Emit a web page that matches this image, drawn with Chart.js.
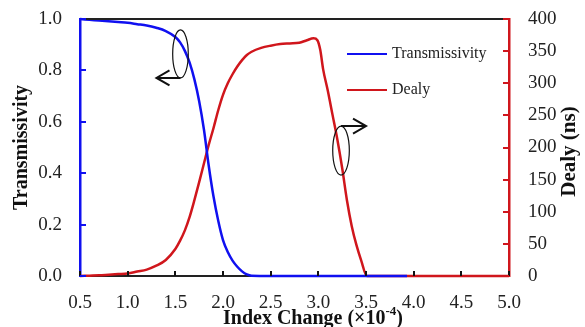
<!DOCTYPE html>
<html>
<head>
<meta charset="utf-8">
<script src="https://cdn.jsdelivr.net/npm/chart.js@4.4.1/dist/chart.umd.min.js"></script>
<style>
  html, body { margin: 0; padding: 0; background: #fff; }
  #wrap { width: 585px; height: 327px; }
</style>
</head>
<body>
<div id="wrap"><canvas id="chart"></canvas></div>
<script>
// index change (x10^-4) and transmissivity
const transX = [0.5, 0.6, 0.7, 0.8, 0.9, 1.0, 1.1, 1.2, 1.3, 1.4, 1.5, 1.55, 1.6, 1.65, 1.7, 1.75, 1.8, 1.85,
  1.9, 1.95, 2.0, 2.05, 2.1, 2.15, 2.2, 2.25, 2.3, 2.5, 3.0, 3.5, 3.93];
const transY = [1.0, 0.997, 0.994, 0.991, 0.988, 0.985, 0.98, 0.975, 0.966, 0.953, 0.93, 0.909, 0.876, 0.83,
  0.765, 0.68, 0.57, 0.43, 0.31, 0.215, 0.14, 0.093, 0.06, 0.036, 0.018, 0.006, 0.001, 0, 0, 0, 0];

// index change (x10^-4) and delay in ns
const delayX = [0.5, 0.6, 0.7, 0.8, 0.9, 1.0, 1.1, 1.2, 1.3, 1.4, 1.5, 1.55, 1.6, 1.65, 1.7, 1.75, 1.8, 1.85,
  1.9, 1.95, 2.0, 2.05, 2.1, 2.15, 2.2, 2.25, 2.3, 2.4, 2.5, 2.6, 2.7, 2.8, 2.88, 2.95, 2.99, 3.02, 3.05,
  3.1, 3.15, 3.2, 3.25, 3.3, 3.35, 3.4, 3.45, 3.51, 4.0, 4.5, 5.0];
const delayY = [0, 0.5, 1, 2, 3, 4, 7, 10, 16, 25, 42, 55, 71, 92, 118, 146, 175, 204,
  230, 258, 282, 300, 314, 326, 336, 344, 349, 355, 358.5, 361, 362, 363, 367, 370, 367, 352, 322,
  288, 250, 212, 168, 118, 78, 48, 24, 0, 0, 0, 0];

const xTicks = [0.5, 1.0, 1.5, 2.0, 2.5, 3.0, 3.5, 4.0, 4.5, 5.0];
const transTicks = [0, 0.2, 0.4, 0.6, 0.8, 1.0];
const delayTicks = [0, 50, 100, 150, 200, 250, 300, 350, 400];

const labels = ['Transmissivity', 'Dealy'];
const xTitle = 'Index Change (\u00d710';
const xTitleSup = '-4';
const yTitle = 'Transmissivity';
const y1Title = 'Dealy (ns)';

const BLUE = '#1010f0';
const RED = '#d0161c';
const SERIF = '"Liberation Serif", "Times New Roman", serif';

const toPoints = (xs, ys) => xs.map((x, i) => ({ x: x, y: ys[i] }));

// axis titles, inside tick marks, legend and the ellipse/arrow callouts
const decor = {
  id: 'decor',
  afterDraw(chart) {
    const { ctx, chartArea: a, scales } = chart;
    const sx = scales.x, sy = scales.y, sy1 = scales.y1;
    ctx.save();

    // top frame line
    ctx.strokeStyle = '#222';
    ctx.lineWidth = 2;
    ctx.beginPath();
    ctx.moveTo(a.left, a.top);
    ctx.lineTo(a.right, a.top);
    ctx.stroke();

    // tick marks pointing inward
    ctx.lineWidth = 2;
    ctx.strokeStyle = '#111';
    xTicks.forEach(v => {
      const px = Math.round(sx.getPixelForValue(v));
      ctx.beginPath();
      ctx.moveTo(px, a.bottom);
      ctx.lineTo(px, a.bottom - 5);
      ctx.stroke();
    });
    ctx.strokeStyle = BLUE;
    transTicks.forEach(v => {
      const py = Math.round(sy.getPixelForValue(v));
      ctx.beginPath();
      ctx.moveTo(a.left, py);
      ctx.lineTo(a.left + 6, py);
      ctx.stroke();
    });
    ctx.strokeStyle = RED;
    delayTicks.forEach(v => {
      const py = Math.round(sy1.getPixelForValue(v));
      ctx.beginPath();
      ctx.moveTo(a.right, py);
      ctx.lineTo(a.right - 6, py);
      ctx.stroke();
    });

    // callouts: ellipse around each curve with an arrow to its axis
    ctx.strokeStyle = '#111';
    const ellipse = (xv, yv, scaleY, rx, ry) => {
      const cx = sx.getPixelForValue(xv), cy = scaleY.getPixelForValue(yv);
      ctx.lineWidth = 1.2;
      ctx.beginPath();
      ctx.ellipse(cx, cy, rx, ry, 0, 0, Math.PI * 2);
      ctx.stroke();
      return { cx, cy };
    };
    const arrow = (x0, y0, x1, dir) => {
      ctx.lineWidth = 2;
      ctx.beginPath();
      ctx.moveTo(x0, y0);
      ctx.lineTo(x1, y0);
      ctx.moveTo(x1 - dir * 13, y0 - 7.5);
      ctx.lineTo(x1, y0);
      ctx.lineTo(x1 - dir * 13, y0 + 7.5);
      ctx.stroke();
    };
    const e1 = ellipse(1.554, 0.864, sy, 7.8, 24);
    arrow(e1.cx, e1.cy + 24, e1.cx - 24, -1);
    const e2 = ellipse(3.238, 0.488 * 400, sy1, 8.3, 24.5);
    arrow(e2.cx, e2.cy - 24.5, e2.cx + 25, 1);

    // legend
    ctx.font = '16px ' + SERIF;
    ctx.textBaseline = 'middle';
    ctx.textAlign = 'left';
    chart.data.datasets.forEach((ds, i) => {
      const ly = a.top + 35 + i * 36;
      const lx = a.right - 162;
      ctx.strokeStyle = ds.borderColor;
      ctx.lineWidth = 2;
      ctx.beginPath();
      ctx.moveTo(lx, ly);
      ctx.lineTo(lx + 40, ly);
      ctx.stroke();
      ctx.fillStyle = '#222';
      ctx.fillText(ds.label, lx + 45, ly);
    });

    // axis titles
    ctx.fillStyle = '#111';
    ctx.textAlign = 'center';
    ctx.font = 'bold 20px ' + SERIF;
    ctx.save();
    ctx.translate(22, (a.top + a.bottom) / 2);
    ctx.rotate(-Math.PI / 2);
    ctx.fillText(yTitle, 0, 0);
    ctx.restore();
    ctx.font = 'bold 21px ' + SERIF;
    ctx.save();
    ctx.translate(570, (a.top + a.bottom) / 2 + 4);
    ctx.rotate(-Math.PI / 2);
    ctx.fillText(y1Title, 0, 0);
    ctx.restore();

    const big = 'bold 20px ' + SERIF, small = 'bold 13px ' + SERIF;
    ctx.font = big;
    const main = ctx.measureText(xTitle).width;
    const close = ctx.measureText(')').width;
    ctx.font = small;
    const sup = ctx.measureText(xTitleSup).width;
    let tx = 313 - (main + sup + close) / 2;
    const ty = 319;
    ctx.textAlign = 'left';
    ctx.font = big;
    ctx.fillText(xTitle, tx, ty);
    tx += main;
    ctx.font = small;
    ctx.fillText(xTitleSup, tx, ty - 7);
    tx += sup;
    ctx.font = big;
    ctx.fillText(')', tx, ty);

    ctx.restore();
  }
};

const tickFont = { family: SERIF, size: 19 };

// fixed axis sizes, and no extra room reserved for half tick labels
const fitVertical = w => s => { s.width = w; s.paddingTop = 0; s.paddingBottom = 0; };

new Chart(document.getElementById('chart'), {
  type: 'line',
  data: {
    datasets: [
      {
        label: labels[0],
        data: toPoints(transX, transY),
        yAxisID: 'y',
        borderColor: BLUE,
        borderWidth: 2.5,
        pointRadius: 0,
        tension: 0.4,
        cubicInterpolationMode: 'monotone',
        clip: 5
      },
      {
        label: labels[1],
        data: toPoints(delayX, delayY),
        yAxisID: 'y1',
        borderColor: RED,
        borderWidth: 2.5,
        pointRadius: 0,
        tension: 0.4,
        cubicInterpolationMode: 'monotone',
        clip: 5
      }
    ]
  },
  options: {
    responsive: true,
    maintainAspectRatio: false,
    animation: false,
    devicePixelRatio: 1,
    layout: { padding: { top: 19, left: 0, right: 0, bottom: 0 } },
    plugins: {
      legend: { display: false },
      tooltip: { enabled: false }
    },
    scales: {
      x: {
        type: 'linear',
        min: 0.5,
        max: 5.0,
        afterBuildTicks: s => { s.ticks = xTicks.map(v => ({ value: v })); },
        afterFit: s => { s.height = 51; s.paddingLeft = 0; s.paddingRight = 0; },
        ticks: { callback: v => v.toFixed(1), font: tickFont, color: '#222', padding: 8, maxRotation: 0, autoSkip: false },
        grid: { display: false },
        border: { color: '#222', width: 2 }
      },
      y: {
        position: 'left',
        min: 0,
        max: 1,
        afterBuildTicks: s => { s.ticks = transTicks.map(v => ({ value: v })); },
        afterFit: fitVertical(80),
        ticks: { callback: v => v.toFixed(1), font: tickFont, color: '#222', padding: 10 },
        grid: { display: false },
        border: { color: BLUE, width: 2.5 }
      },
      y1: {
        position: 'right',
        min: 0,
        max: 400,
        afterBuildTicks: s => { s.ticks = delayTicks.map(v => ({ value: v })); },
        afterFit: fitVertical(76),
        ticks: { font: tickFont, color: '#222', padding: 11 },
        grid: { display: false },
        border: { color: RED, width: 2.5 }
      }
    }
  },
  plugins: [decor]
});
</script>
</body>
</html>
